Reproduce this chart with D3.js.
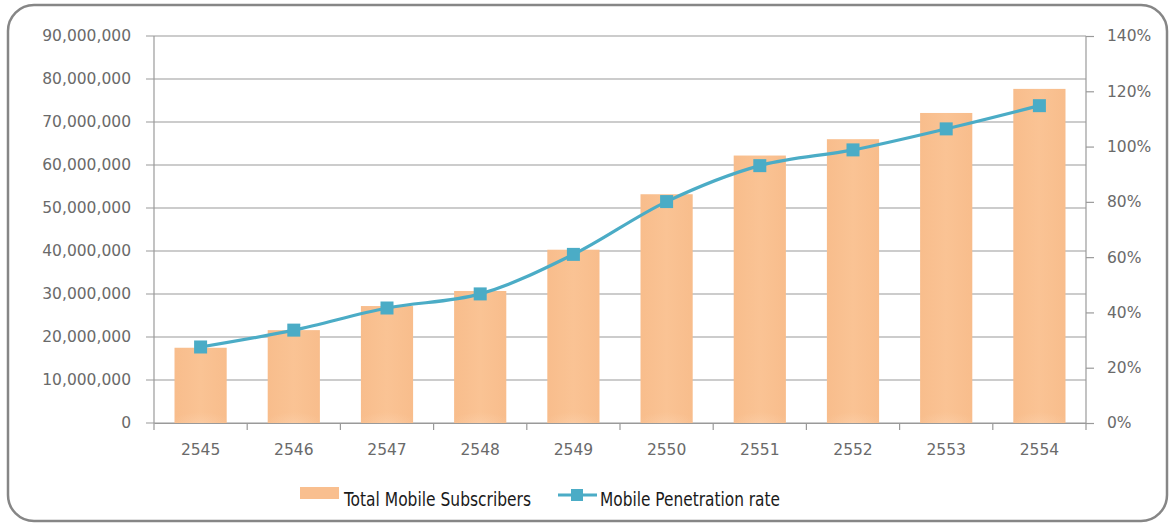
<!DOCTYPE html>
<html>
<head>
<meta charset="utf-8">
<script src="https://cdn.jsdelivr.net/npm/d3@7"></script>
<style>
  body { margin: 0; background: #fff; }
  svg { display: block; font-family: "DejaVu Sans", sans-serif; }
</style>
</head>
<body>
<svg id="chart" width="1171" height="524"></svg>
<script>
const years = ['2545', '2546', '2547', '2548', '2549', '2550', '2551', '2552', '2553', '2554']
const subscribers = [17500000, 21600000, 27200000, 30700000, 40300000, 53200000, 62200000, 66000000, 72100000, 77700000]
const penetration = [27.5, 33.6, 41.6, 46.7, 61.0, 80.1, 93.1, 98.8, 106.4, 114.8]
const leftTicks = d3.range(0, 90000001, 10000000)
const rightTicks = d3.range(0, 141, 20)

const margin = { left: 154, right: 85, top: 36, bottom: 101 }
const W = 1171, H = 524
const svg = d3.select('#chart')

// rounded frame
svg.append('rect')
  .attr('x', 8).attr('y', 5)
  .attr('width', 1159).attr('height', 516)
  .attr('rx', 26)
  .attr('fill', '#fff')
  .attr('stroke', '#868686')
  .attr('stroke-width', 2.5)

const x = d3.scaleBand().domain(years)
  .range([margin.left, W - margin.right])
  .paddingInner(0.44).paddingOuter(0.22)
const xb = d3.scaleBand().domain(years).range([margin.left, W - margin.right])
const y = d3.scaleLinear().domain([0, 90000000]).range([H - margin.bottom, margin.top])
const y2 = d3.scaleLinear().domain([0, 140]).range([H - margin.bottom, margin.top])

const grey = '#9a9a9a'

// gridlines
svg.append('g').selectAll('line')
  .data(leftTicks).enter().append('line')
  .attr('x1', margin.left - 8).attr('x2', W - margin.right)
  .attr('y1', d => y(d)).attr('y2', d => y(d))
  .attr('stroke', grey).attr('stroke-width', 1.2)

// bar gradient, plus a faint lighter glow near the base
const defs = svg.append('defs')
const grad = defs.append('linearGradient').attr('id', 'barGrad').attr('x1', 0).attr('x2', 1)
grad.append('stop').attr('offset', '0%').attr('stop-color', '#f8bd8c')
grad.append('stop').attr('offset', '50%').attr('stop-color', '#fac394')
grad.append('stop').attr('offset', '100%').attr('stop-color', '#f8bd8c')
const glow = defs.append('radialGradient').attr('id', 'baseGlow')
  .attr('cx', 0.5).attr('cy', 1).attr('r', 0.6)
glow.append('stop').attr('offset', '0%').attr('stop-color', '#fcd3b0').attr('stop-opacity', 0.45)
glow.append('stop').attr('offset', '100%').attr('stop-color', '#fcd3b0').attr('stop-opacity', 0)

const bars = svg.append('g')
bars.selectAll('rect.bar')
  .data(subscribers).enter().append('rect')
  .attr('class', 'bar')
  .attr('x', (d, i) => x(years[i]))
  .attr('width', x.bandwidth())
  .attr('y', d => y(d))
  .attr('height', d => y(0) - y(d))
  .attr('fill', 'url(#barGrad)')
bars.selectAll('rect.glow')
  .data(subscribers).enter().append('rect')
  .attr('class', 'glow')
  .attr('x', (d, i) => x(years[i]))
  .attr('width', x.bandwidth())
  .attr('y', y(0) - 18)
  .attr('height', 18)
  .attr('fill', 'url(#baseGlow)')

// left axis
const leftAxis = svg.append('g')
  .attr('transform', `translate(${margin.left},0)`)
  .call(d3.axisLeft(y).tickValues(leftTicks).tickSize(8).tickPadding(15)
    .tickFormat(d3.format(',')))
leftAxis.select('.domain').remove()
leftAxis.selectAll('line').remove()
leftAxis.append('line')
  .attr('x1', 0).attr('x2', 0)
  .attr('y1', margin.top).attr('y2', H - margin.bottom + 7)
  .attr('stroke', grey).attr('stroke-width', 1.2)

// right axis
const rightAxis = svg.append('g')
  .attr('transform', `translate(${W - margin.right},0)`)
  .call(d3.axisRight(y2).tickValues(rightTicks).tickSize(8).tickPadding(13)
    .tickFormat(d => d + '%'))
rightAxis.select('.domain').remove()
rightAxis.selectAll('line').attr('stroke', grey).attr('stroke-width', 1.2)
rightAxis.append('line')
  .attr('x1', 0).attr('x2', 0)
  .attr('y1', margin.top).attr('y2', H - margin.bottom + 7)
  .attr('stroke', grey).attr('stroke-width', 1.2)

// bottom axis
const bottomAxis = svg.append('g')
  .attr('transform', `translate(0,${H - margin.bottom})`)
  .call(d3.axisBottom(xb).tickSize(0).tickPadding(21))
bottomAxis.select('.domain').attr('stroke', grey).attr('stroke-width', 1.2)
bottomAxis.selectAll('.sep')
  .data(years.slice(1)).enter().append('line')
  .attr('class', 'sep')
  .attr('x1', d => xb(d)).attr('x2', d => xb(d))
  .attr('y1', 0).attr('y2', 7)
  .attr('stroke', grey).attr('stroke-width', 1.2)

svg.selectAll('.tick text')
  .attr('fill', '#6a6a6a')
  .style('font-size', '15.5px')
  .style('font-family', '"DejaVu Sans", sans-serif')

// line series
const lineColor = '#4bacc6'
const line = d3.line()
  .x((d, i) => xb(years[i]) + xb.bandwidth() / 2)
  .y(d => y2(d))
  .curve(d3.curveCatmullRom.alpha(0.5))

svg.append('path')
  .datum(penetration)
  .attr('d', line)
  .attr('fill', 'none')
  .attr('stroke', lineColor)
  .attr('stroke-width', 3.2)

svg.append('g').selectAll('rect')
  .data(penetration).enter().append('rect')
  .attr('x', (d, i) => xb(years[i]) + xb.bandwidth() / 2 - 6.5)
  .attr('y', d => y2(d) - 6.5)
  .attr('width', 13).attr('height', 13)
  .attr('fill', lineColor)

// legend
const legend = svg.append('g')
  .style('font-family', '"Liberation Sans Narrow", "DejaVu Sans Condensed", sans-serif')
legend.append('rect')
  .attr('x', 300).attr('y', 487)
  .attr('width', 39).attr('height', 12)
  .attr('fill', '#f9bf8f')
legend.append('text')
  .attr('x', 344).attr('y', 506)
  .attr('fill', '#1a1a1a')
  .style('font-size', '19px')
  .attr('textLength', 187)
  .attr('lengthAdjust', 'spacingAndGlyphs')
  .text('Total Mobile Subscribers')
legend.append('line')
  .attr('x1', 558).attr('x2', 597)
  .attr('y1', 495).attr('y2', 495)
  .attr('stroke', lineColor).attr('stroke-width', 3.2)
legend.append('rect')
  .attr('x', 571).attr('y', 489)
  .attr('width', 12).attr('height', 12)
  .attr('fill', lineColor)
legend.append('text')
  .attr('x', 600).attr('y', 506)
  .attr('fill', '#1a1a1a')
  .style('font-size', '19px')
  .attr('textLength', 180)
  .attr('lengthAdjust', 'spacingAndGlyphs')
  .text('Mobile Penetration rate')
</script>
</body>
</html>
